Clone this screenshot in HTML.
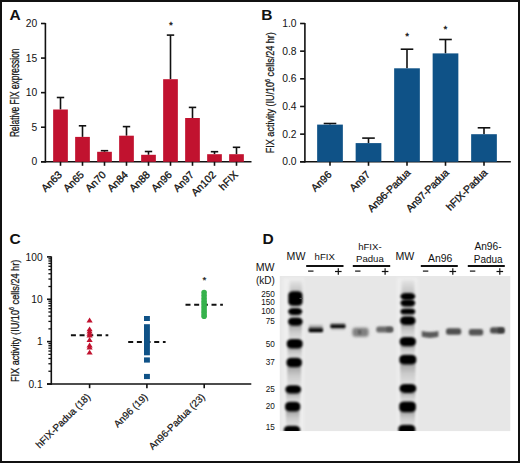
<!DOCTYPE html><html><head><meta charset="utf-8"><style>html,body{margin:0;padding:0;background:#fff;width:520px;height:463px;overflow:hidden;}svg{display:block;font-family:"Liberation Sans", sans-serif;}</style></head><body><svg xmlns="http://www.w3.org/2000/svg" width="520" height="463" viewBox="0 0 520 463" font-family="&quot;Liberation Sans&quot;, sans-serif">
<defs><filter id="b1" x="-50%" y="-50%" width="200%" height="200%"><feGaussianBlur stdDeviation="0.9"/></filter><filter id="b2" x="-50%" y="-50%" width="200%" height="200%"><feGaussianBlur stdDeviation="1.4"/></filter><filter id="b3" x="-50%" y="-50%" width="200%" height="200%"><feGaussianBlur stdDeviation="0.6"/></filter><filter id="b4" x="-50%" y="-50%" width="200%" height="200%"><feGaussianBlur stdDeviation="0.8"/></filter></defs>
<rect width="520" height="463" fill="#fff"/>
<rect x="1" y="1" width="518" height="461" fill="none" stroke="#111" stroke-width="2"/>
<text x="9.4" y="19.8" font-size="15.5" font-weight="bold" fill="#111">A</text>
<text x="261.2" y="20.1" font-size="15.5" font-weight="bold" fill="#111">B</text>
<text x="9.5" y="243.7" font-size="15.5" font-weight="bold" fill="#111">C</text>
<text x="262.6" y="244.2" font-size="15.5" font-weight="bold" fill="#111">D</text>
<line x1="45.40" y1="23.00" x2="45.40" y2="162.60" stroke="#111" stroke-width="1.6"/>
<line x1="41.00" y1="161.80" x2="251.50" y2="161.80" stroke="#111" stroke-width="1.6"/>
<line x1="41.00" y1="23.50" x2="45.40" y2="23.50" stroke="#111" stroke-width="1.6"/>
<text x="37.30" y="27.10" font-size="10.3" text-anchor="end" fill="#111" >20</text>
<line x1="41.00" y1="58.08" x2="45.40" y2="58.08" stroke="#111" stroke-width="1.6"/>
<text x="37.30" y="61.68" font-size="10.3" text-anchor="end" fill="#111" >15</text>
<line x1="41.00" y1="92.65" x2="45.40" y2="92.65" stroke="#111" stroke-width="1.6"/>
<text x="37.30" y="96.25" font-size="10.3" text-anchor="end" fill="#111" >10</text>
<line x1="41.00" y1="127.23" x2="45.40" y2="127.23" stroke="#111" stroke-width="1.6"/>
<text x="37.30" y="130.83" font-size="10.3" text-anchor="end" fill="#111" >5</text>
<line x1="41.00" y1="161.80" x2="45.40" y2="161.80" stroke="#111" stroke-width="1.6"/>
<text x="37.30" y="165.40" font-size="10.3" text-anchor="end" fill="#111" >0</text>
<text transform="translate(18.6,137.1) rotate(-90)" font-size="12.6" textLength="88.6" lengthAdjust="spacingAndGlyphs" fill="#111" stroke="#111" stroke-width="0.25">Relative FIX expression</text>
<line x1="60.50" y1="97.50" x2="60.50" y2="109.50" stroke="#111" stroke-width="1.6"/>
<line x1="56.80" y1="97.50" x2="64.20" y2="97.50" stroke="#111" stroke-width="1.6"/>
<rect x="53.15" y="109.50" width="14.7" height="52.30" fill="#C1122F"/>
<line x1="60.50" y1="161.80" x2="60.50" y2="165.80" stroke="#111" stroke-width="1.6"/>
<text transform="translate(62.70,175.40) rotate(-45)" font-size="10.4" text-anchor="end" fill="#111" stroke="#111" stroke-width="0.3">An63</text>
<line x1="82.50" y1="125.80" x2="82.50" y2="136.90" stroke="#111" stroke-width="1.6"/>
<line x1="78.80" y1="125.80" x2="86.20" y2="125.80" stroke="#111" stroke-width="1.6"/>
<rect x="75.15" y="136.90" width="14.7" height="24.90" fill="#C1122F"/>
<line x1="82.50" y1="161.80" x2="82.50" y2="165.80" stroke="#111" stroke-width="1.6"/>
<text transform="translate(84.70,175.40) rotate(-45)" font-size="10.4" text-anchor="end" fill="#111" stroke="#111" stroke-width="0.3">An65</text>
<line x1="104.50" y1="150.70" x2="104.50" y2="151.80" stroke="#111" stroke-width="1.6"/>
<line x1="100.80" y1="150.70" x2="108.20" y2="150.70" stroke="#111" stroke-width="1.6"/>
<rect x="97.15" y="151.80" width="14.7" height="10.00" fill="#C1122F"/>
<line x1="104.50" y1="161.80" x2="104.50" y2="165.80" stroke="#111" stroke-width="1.6"/>
<text transform="translate(106.70,175.40) rotate(-45)" font-size="10.4" text-anchor="end" fill="#111" stroke="#111" stroke-width="0.3">An70</text>
<line x1="126.50" y1="126.60" x2="126.50" y2="135.70" stroke="#111" stroke-width="1.6"/>
<line x1="122.80" y1="126.60" x2="130.20" y2="126.60" stroke="#111" stroke-width="1.6"/>
<rect x="119.15" y="135.70" width="14.7" height="26.10" fill="#C1122F"/>
<line x1="126.50" y1="161.80" x2="126.50" y2="165.80" stroke="#111" stroke-width="1.6"/>
<text transform="translate(128.70,175.40) rotate(-45)" font-size="10.4" text-anchor="end" fill="#111" stroke="#111" stroke-width="0.3">An84</text>
<line x1="148.50" y1="151.50" x2="148.50" y2="154.80" stroke="#111" stroke-width="1.6"/>
<line x1="144.80" y1="151.50" x2="152.20" y2="151.50" stroke="#111" stroke-width="1.6"/>
<rect x="141.15" y="154.80" width="14.7" height="7.00" fill="#C1122F"/>
<line x1="148.50" y1="161.80" x2="148.50" y2="165.80" stroke="#111" stroke-width="1.6"/>
<text transform="translate(150.70,175.40) rotate(-45)" font-size="10.4" text-anchor="end" fill="#111" stroke="#111" stroke-width="0.3">An88</text>
<line x1="170.50" y1="35.10" x2="170.50" y2="79.20" stroke="#111" stroke-width="1.6"/>
<line x1="166.80" y1="35.10" x2="174.20" y2="35.10" stroke="#111" stroke-width="1.6"/>
<rect x="163.15" y="79.20" width="14.7" height="82.60" fill="#C1122F"/>
<line x1="170.50" y1="161.80" x2="170.50" y2="165.80" stroke="#111" stroke-width="1.6"/>
<text transform="translate(172.70,175.40) rotate(-45)" font-size="10.4" text-anchor="end" fill="#111" stroke="#111" stroke-width="0.3">An96</text>
<line x1="192.50" y1="107.40" x2="192.50" y2="118.00" stroke="#111" stroke-width="1.6"/>
<line x1="188.80" y1="107.40" x2="196.20" y2="107.40" stroke="#111" stroke-width="1.6"/>
<rect x="185.15" y="118.00" width="14.7" height="43.80" fill="#C1122F"/>
<line x1="192.50" y1="161.80" x2="192.50" y2="165.80" stroke="#111" stroke-width="1.6"/>
<text transform="translate(194.70,175.40) rotate(-45)" font-size="10.4" text-anchor="end" fill="#111" stroke="#111" stroke-width="0.3">An97</text>
<line x1="214.50" y1="151.70" x2="214.50" y2="154.20" stroke="#111" stroke-width="1.6"/>
<line x1="210.80" y1="151.70" x2="218.20" y2="151.70" stroke="#111" stroke-width="1.6"/>
<rect x="207.15" y="154.20" width="14.7" height="7.60" fill="#C1122F"/>
<line x1="214.50" y1="161.80" x2="214.50" y2="165.80" stroke="#111" stroke-width="1.6"/>
<text transform="translate(216.70,175.40) rotate(-45)" font-size="10.4" text-anchor="end" fill="#111" stroke="#111" stroke-width="0.3">An102</text>
<line x1="236.50" y1="147.30" x2="236.50" y2="154.20" stroke="#111" stroke-width="1.6"/>
<line x1="232.80" y1="147.30" x2="240.20" y2="147.30" stroke="#111" stroke-width="1.6"/>
<rect x="229.15" y="154.20" width="14.7" height="7.60" fill="#C1122F"/>
<line x1="236.50" y1="161.80" x2="236.50" y2="165.80" stroke="#111" stroke-width="1.6"/>
<text transform="translate(238.70,175.40) rotate(-45)" font-size="10.4" text-anchor="end" fill="#111" stroke="#111" stroke-width="0.3">hFIX</text>
<text x="171.00" y="28.30" font-size="9.8" text-anchor="middle" fill="#111" stroke="#111" stroke-width="0.3">*</text>
<line x1="304.90" y1="23.00" x2="304.90" y2="162.60" stroke="#111" stroke-width="1.6"/>
<line x1="300.10" y1="161.80" x2="510.80" y2="161.80" stroke="#111" stroke-width="1.6"/>
<line x1="300.10" y1="23.50" x2="304.90" y2="23.50" stroke="#111" stroke-width="1.6"/>
<text x="296.60" y="27.10" font-size="10.3" text-anchor="end" fill="#111" >1.0</text>
<line x1="300.10" y1="51.16" x2="304.90" y2="51.16" stroke="#111" stroke-width="1.6"/>
<text x="296.60" y="54.76" font-size="10.3" text-anchor="end" fill="#111" >0.8</text>
<line x1="300.10" y1="78.82" x2="304.90" y2="78.82" stroke="#111" stroke-width="1.6"/>
<text x="296.60" y="82.42" font-size="10.3" text-anchor="end" fill="#111" >0.6</text>
<line x1="300.10" y1="106.48" x2="304.90" y2="106.48" stroke="#111" stroke-width="1.6"/>
<text x="296.60" y="110.08" font-size="10.3" text-anchor="end" fill="#111" >0.4</text>
<line x1="300.10" y1="134.14" x2="304.90" y2="134.14" stroke="#111" stroke-width="1.6"/>
<text x="296.60" y="137.74" font-size="10.3" text-anchor="end" fill="#111" >0.2</text>
<line x1="300.10" y1="161.80" x2="304.90" y2="161.80" stroke="#111" stroke-width="1.6"/>
<text x="296.60" y="165.40" font-size="10.3" text-anchor="end" fill="#111" >0.0</text>
<text transform="translate(274.3,153.2) rotate(-90)" font-size="11.8" stroke="#111" stroke-width="0.25" textLength="121" lengthAdjust="spacingAndGlyphs" fill="#111">FIX activity (IU/10<tspan font-size="7.2" dy="-4.4">6</tspan><tspan dy="4.4"> cells/24 hr)</tspan></text>
<line x1="330.00" y1="123.50" x2="330.00" y2="124.60" stroke="#111" stroke-width="1.6"/>
<line x1="323.70" y1="123.50" x2="336.30" y2="123.50" stroke="#111" stroke-width="1.6"/>
<rect x="317.15" y="124.60" width="25.7" height="37.20" fill="#0F5287"/>
<line x1="330.00" y1="161.80" x2="330.00" y2="165.80" stroke="#111" stroke-width="1.6"/>
<text transform="translate(332.40,175.20) rotate(-45)" font-size="10.4" text-anchor="end" fill="#111" stroke="#111" stroke-width="0.3">An96</text>
<line x1="368.50" y1="138.10" x2="368.50" y2="143.10" stroke="#111" stroke-width="1.6"/>
<line x1="362.20" y1="138.10" x2="374.80" y2="138.10" stroke="#111" stroke-width="1.6"/>
<rect x="355.65" y="143.10" width="25.7" height="18.70" fill="#0F5287"/>
<line x1="368.50" y1="161.80" x2="368.50" y2="165.80" stroke="#111" stroke-width="1.6"/>
<text transform="translate(370.90,175.20) rotate(-45)" font-size="10.4" text-anchor="end" fill="#111" stroke="#111" stroke-width="0.3">An97</text>
<line x1="407.00" y1="49.20" x2="407.00" y2="68.30" stroke="#111" stroke-width="1.6"/>
<line x1="400.70" y1="49.20" x2="413.30" y2="49.20" stroke="#111" stroke-width="1.6"/>
<rect x="394.15" y="68.30" width="25.7" height="93.50" fill="#0F5287"/>
<line x1="407.00" y1="161.80" x2="407.00" y2="165.80" stroke="#111" stroke-width="1.6"/>
<text transform="translate(410.90,173.70) rotate(-45)" font-size="10.4" text-anchor="end" fill="#111" stroke="#111" stroke-width="0.3" letter-spacing="-0.25">An96-Padua</text>
<line x1="445.50" y1="39.50" x2="445.50" y2="53.40" stroke="#111" stroke-width="1.6"/>
<line x1="439.20" y1="39.50" x2="451.80" y2="39.50" stroke="#111" stroke-width="1.6"/>
<rect x="432.65" y="53.40" width="25.7" height="108.40" fill="#0F5287"/>
<line x1="445.50" y1="161.80" x2="445.50" y2="165.80" stroke="#111" stroke-width="1.6"/>
<text transform="translate(449.40,173.70) rotate(-45)" font-size="10.4" text-anchor="end" fill="#111" stroke="#111" stroke-width="0.3" letter-spacing="-0.25">An97-Padua</text>
<line x1="484.00" y1="127.80" x2="484.00" y2="134.20" stroke="#111" stroke-width="1.6"/>
<line x1="477.70" y1="127.80" x2="490.30" y2="127.80" stroke="#111" stroke-width="1.6"/>
<rect x="471.15" y="134.20" width="25.7" height="27.60" fill="#0F5287"/>
<line x1="484.00" y1="161.80" x2="484.00" y2="165.80" stroke="#111" stroke-width="1.6"/>
<text transform="translate(487.90,173.70) rotate(-45)" font-size="10.4" text-anchor="end" fill="#111" stroke="#111" stroke-width="0.3" letter-spacing="-0.25">hFIX-Padua</text>
<text x="407.10" y="38.90" font-size="9.8" text-anchor="middle" fill="#111" stroke="#111" stroke-width="0.3">*</text>
<text x="445.40" y="32.10" font-size="9.8" text-anchor="middle" fill="#111" stroke="#111" stroke-width="0.3">*</text>
<line x1="51.30" y1="256.40" x2="51.30" y2="384.80" stroke="#111" stroke-width="1.6"/>
<line x1="47.00" y1="384.00" x2="251.30" y2="384.00" stroke="#111" stroke-width="1.6"/>
<line x1="47.00" y1="256.89" x2="51.30" y2="256.89" stroke="#111" stroke-width="1.6"/>
<text x="42.60" y="260.59" font-size="10.2" text-anchor="end" fill="#111" >100</text>
<line x1="47.00" y1="299.26" x2="51.30" y2="299.26" stroke="#111" stroke-width="1.6"/>
<text x="42.60" y="302.96" font-size="10.2" text-anchor="end" fill="#111" >10</text>
<line x1="47.00" y1="341.63" x2="51.30" y2="341.63" stroke="#111" stroke-width="1.6"/>
<text x="42.60" y="345.33" font-size="10.2" text-anchor="end" fill="#111" >1</text>
<line x1="47.00" y1="384.00" x2="51.30" y2="384.00" stroke="#111" stroke-width="1.6"/>
<text x="42.60" y="387.70" font-size="10.2" text-anchor="end" fill="#111" >0.1</text>
<line x1="48.40" y1="371.25" x2="51.30" y2="371.25" stroke="#111" stroke-width="1.3"/>
<line x1="48.40" y1="363.78" x2="51.30" y2="363.78" stroke="#111" stroke-width="1.3"/>
<line x1="48.40" y1="358.49" x2="51.30" y2="358.49" stroke="#111" stroke-width="1.3"/>
<line x1="48.40" y1="354.38" x2="51.30" y2="354.38" stroke="#111" stroke-width="1.3"/>
<line x1="48.40" y1="351.03" x2="51.30" y2="351.03" stroke="#111" stroke-width="1.3"/>
<line x1="48.40" y1="348.19" x2="51.30" y2="348.19" stroke="#111" stroke-width="1.3"/>
<line x1="48.40" y1="345.74" x2="51.30" y2="345.74" stroke="#111" stroke-width="1.3"/>
<line x1="48.40" y1="343.57" x2="51.30" y2="343.57" stroke="#111" stroke-width="1.3"/>
<line x1="48.40" y1="328.88" x2="51.30" y2="328.88" stroke="#111" stroke-width="1.3"/>
<line x1="48.40" y1="321.41" x2="51.30" y2="321.41" stroke="#111" stroke-width="1.3"/>
<line x1="48.40" y1="316.12" x2="51.30" y2="316.12" stroke="#111" stroke-width="1.3"/>
<line x1="48.40" y1="312.01" x2="51.30" y2="312.01" stroke="#111" stroke-width="1.3"/>
<line x1="48.40" y1="308.66" x2="51.30" y2="308.66" stroke="#111" stroke-width="1.3"/>
<line x1="48.40" y1="305.82" x2="51.30" y2="305.82" stroke="#111" stroke-width="1.3"/>
<line x1="48.40" y1="303.37" x2="51.30" y2="303.37" stroke="#111" stroke-width="1.3"/>
<line x1="48.40" y1="301.20" x2="51.30" y2="301.20" stroke="#111" stroke-width="1.3"/>
<line x1="48.40" y1="286.51" x2="51.30" y2="286.51" stroke="#111" stroke-width="1.3"/>
<line x1="48.40" y1="279.04" x2="51.30" y2="279.04" stroke="#111" stroke-width="1.3"/>
<line x1="48.40" y1="273.75" x2="51.30" y2="273.75" stroke="#111" stroke-width="1.3"/>
<line x1="48.40" y1="269.64" x2="51.30" y2="269.64" stroke="#111" stroke-width="1.3"/>
<line x1="48.40" y1="266.29" x2="51.30" y2="266.29" stroke="#111" stroke-width="1.3"/>
<line x1="48.40" y1="263.45" x2="51.30" y2="263.45" stroke="#111" stroke-width="1.3"/>
<line x1="48.40" y1="261.00" x2="51.30" y2="261.00" stroke="#111" stroke-width="1.3"/>
<line x1="48.40" y1="258.83" x2="51.30" y2="258.83" stroke="#111" stroke-width="1.3"/>
<text transform="translate(18.6,382.1) rotate(-90)" font-size="11.8" stroke="#111" stroke-width="0.25" textLength="122.4" lengthAdjust="spacingAndGlyphs" fill="#111">FIX activity (IU/10<tspan font-size="7.2" dy="-4.4">6</tspan><tspan dy="4.4"> cells/24 hr)</tspan></text>
<line x1="89.60" y1="384.00" x2="89.60" y2="388.20" stroke="#111" stroke-width="1.6"/>
<text transform="translate(91.00,397.60) rotate(-45)" font-size="9.8" text-anchor="end" fill="#111" stroke="#111" stroke-width="0.2">hFIX-Padua (18)</text>
<line x1="146.90" y1="384.00" x2="146.90" y2="388.20" stroke="#111" stroke-width="1.6"/>
<text transform="translate(148.30,397.60) rotate(-45)" font-size="9.8" text-anchor="end" fill="#111" stroke="#111" stroke-width="0.2">An96 (19)</text>
<line x1="204.20" y1="384.00" x2="204.20" y2="388.20" stroke="#111" stroke-width="1.6"/>
<text transform="translate(205.60,397.60) rotate(-45)" font-size="9.8" text-anchor="end" fill="#111" stroke="#111" stroke-width="0.2">An96-Padua (23)</text>
<line x1="70.90" y1="335.2" x2="108.30" y2="335.2" stroke="#111" stroke-width="2" stroke-dasharray="5 3.67"/>
<line x1="128.20" y1="342.1" x2="165.60" y2="342.1" stroke="#111" stroke-width="2" stroke-dasharray="5 3.67"/>
<line x1="185.50" y1="304.8" x2="222.90" y2="304.8" stroke="#111" stroke-width="2" stroke-dasharray="5 3.67"/>
<polygon points="89.6,317.6 92.7,322.5 86.5,322.5" fill="#C1122F"/>
<polygon points="89.6,326.4 92.7,331.29999999999995 86.5,331.29999999999995" fill="#C1122F"/>
<polygon points="89.6,328.6 92.7,333.5 86.5,333.5" fill="#C1122F"/>
<polygon points="89.6,330.8 92.7,335.7 86.5,335.7" fill="#C1122F"/>
<polygon points="89.6,332.5 92.7,337.4 86.5,337.4" fill="#C1122F"/>
<polygon points="89.6,337.1 92.7,342.0 86.5,342.0" fill="#C1122F"/>
<polygon points="89.6,342.6 92.7,347.5 86.5,347.5" fill="#C1122F"/>
<polygon points="89.6,344.6 92.7,349.5 86.5,349.5" fill="#C1122F"/>
<polygon points="89.6,349.7 92.7,354.59999999999997 86.5,354.59999999999997" fill="#C1122F"/>
<rect x="144" y="316" width="5.9" height="5.00" fill="#0F5287"/>
<rect x="144" y="324.2" width="5.9" height="31.10" fill="#0F5287"/>
<rect x="144" y="357.4" width="5.9" height="5.20" fill="#0F5287"/>
<rect x="144" y="373.9" width="5.9" height="5.20" fill="#0F5287"/>
<circle cx="204.1" cy="292.6" r="2.8" fill="#36B24C"/>
<circle cx="204.1" cy="295.6" r="2.8" fill="#36B24C"/>
<circle cx="204.1" cy="298.6" r="2.8" fill="#36B24C"/>
<circle cx="204.1" cy="301.2" r="2.8" fill="#36B24C"/>
<circle cx="204.1" cy="303.8" r="2.8" fill="#36B24C"/>
<circle cx="204.1" cy="306.4" r="2.8" fill="#36B24C"/>
<circle cx="204.1" cy="309" r="2.8" fill="#36B24C"/>
<circle cx="204.1" cy="311.6" r="2.8" fill="#36B24C"/>
<circle cx="204.1" cy="313.9" r="2.8" fill="#36B24C"/>
<circle cx="204.1" cy="316.3" r="2.8" fill="#36B24C"/>
<text x="204.3" y="283.2" font-size="9.8" text-anchor="middle" fill="#111" stroke="#111" stroke-width="0.2">*</text>
<rect x="279.8" y="276" width="230.50" height="155.10" fill="#E7E7E7"/>
<clipPath id="gelclip"><rect x="279.8" y="276" width="230.50" height="155.10"/></clipPath>
<linearGradient id="smr" x1="0" y1="0" x2="0" y2="1"><stop offset="0" stop-color="#A0A0A0"/><stop offset="0.5" stop-color="#CBCBCB"/><stop offset="1" stop-color="#DFDFDF"/></linearGradient>
<linearGradient id="smt" x1="0" y1="0" x2="0" y2="1"><stop offset="0" stop-color="#E4E4E4"/><stop offset="1" stop-color="#BDBDBD"/></linearGradient>
<linearGradient id="bsm" x1="0" y1="0" x2="0" y2="1"><stop offset="0" stop-color="#000" stop-opacity="0"/><stop offset="1" stop-color="#000" stop-opacity="0.6"/></linearGradient>
<g clip-path="url(#gelclip)">
<rect x="282.70" y="278" width="21.10" height="155.10" fill="#EFEFEF" filter="url(#b2)"/>
<rect x="289.60" y="280.5" width="12.60" height="13.00" fill="url(#smt)" filter="url(#b2)"/>
<rect x="289.10" y="304.50" width="12.60" height="3.80" fill="url(#smr)" filter="url(#b1)"/>
<rect x="288.90" y="313.80" width="12.60" height="3.90" fill="url(#smr)" filter="url(#b1)"/>
<rect x="288.90" y="324.40" width="12.90" height="14.90" fill="url(#smr)" filter="url(#b1)"/>
<rect x="287.60" y="347.20" width="14.20" height="10.90" fill="url(#smr)" filter="url(#b1)"/>
<rect x="287.30" y="366.00" width="13.80" height="19.60" fill="url(#smr)" filter="url(#b1)"/>
<rect x="286.20" y="392.20" width="14.10" height="9.90" fill="url(#smr)" filter="url(#b1)"/>
<rect x="285.90" y="410.30" width="13.60" height="15.70" fill="url(#smr)" filter="url(#b1)"/>
<rect x="288.30" y="291.20" width="14.20" height="14.60" rx="5" ry="3.6" fill="#000" filter="url(#b4)"/>
<rect x="288.10" y="308.00" width="14.20" height="7.10" rx="5" ry="3.6" fill="#000" filter="url(#b4)"/>
<rect x="288.10" y="317.40" width="14.50" height="8.30" rx="5" ry="3.6" fill="#000" filter="url(#b4)"/>
<rect x="286.80" y="339.00" width="15.80" height="9.50" rx="5" ry="3.6" fill="#000" filter="url(#b4)"/>
<rect x="286.50" y="357.80" width="15.40" height="9.50" rx="5" ry="3.6" fill="#000" filter="url(#b4)"/>
<rect x="285.40" y="385.30" width="15.70" height="8.20" rx="5" ry="3.6" fill="#000" filter="url(#b4)"/>
<rect x="285.10" y="401.80" width="15.20" height="9.80" rx="5" ry="3.6" fill="#000" filter="url(#b4)"/>
<rect x="283.90" y="425.70" width="16.20" height="8.60" rx="5" ry="3.6" fill="#000" filter="url(#b4)"/>
<rect x="299.5" y="297.9" width="3" height="1" fill="#555" filter="url(#b3)"/>
<rect x="397.20" y="278" width="20.30" height="155.10" fill="#EFEFEF" filter="url(#b2)"/>
<rect x="401.50" y="280" width="13.00" height="14.80" fill="url(#smt)" filter="url(#b2)"/>
<rect x="401.20" y="305.20" width="13.30" height="3.60" fill="url(#smr)" filter="url(#b1)"/>
<rect x="401.20" y="313.00" width="13.30" height="3.60" fill="url(#smr)" filter="url(#b1)"/>
<rect x="401.00" y="323.80" width="13.70" height="13.40" fill="url(#smr)" filter="url(#b1)"/>
<rect x="400.50" y="344.90" width="14.60" height="10.20" fill="url(#smr)" filter="url(#b1)"/>
<rect x="400.20" y="363.20" width="15.30" height="21.00" fill="url(#smr)" filter="url(#b1)"/>
<rect x="400.40" y="391.60" width="15.00" height="10.20" fill="url(#smr)" filter="url(#b1)"/>
<rect x="400.00" y="410.90" width="15.10" height="14.10" fill="url(#smr)" filter="url(#b1)"/>
<rect x="400.40" y="293.00" width="14.90" height="6.90" rx="5" ry="3.6" fill="#000" filter="url(#b4)"/>
<rect x="400.40" y="299.60" width="14.90" height="6.90" rx="5" ry="3.6" fill="#000" filter="url(#b4)"/>
<rect x="400.40" y="308.50" width="14.90" height="5.80" rx="5" ry="3.6" fill="#000" filter="url(#b4)"/>
<rect x="400.20" y="316.30" width="15.30" height="8.80" rx="5" ry="3.6" fill="#000" filter="url(#b4)"/>
<rect x="399.70" y="336.90" width="16.20" height="9.30" rx="5" ry="3.6" fill="#000" filter="url(#b4)"/>
<rect x="399.40" y="354.80" width="16.90" height="9.70" rx="5" ry="3.6" fill="#000" filter="url(#b4)"/>
<rect x="399.60" y="383.90" width="16.60" height="9.00" rx="5" ry="3.6" fill="#000" filter="url(#b4)"/>
<rect x="399.20" y="401.50" width="16.70" height="10.70" rx="5" ry="3.6" fill="#000" filter="url(#b4)"/>
<rect x="398.40" y="424.70" width="16.90" height="9.60" rx="5" ry="3.6" fill="#000" filter="url(#b4)"/>
<rect x="308.90" y="323.80" width="13.80" height="5.80" fill="url(#bsm)" filter="url(#b1)"/>
<rect x="308.60" y="328.60" width="14.40" height="3.60" rx="1.2" ry="1.2" fill="#000" filter="url(#b1)"/>
<rect x="330.60" y="322.00" width="14.60" height="3.80" fill="url(#bsm)" filter="url(#b1)"/>
<rect x="330.30" y="324.80" width="15.20" height="3.20" rx="1.2" ry="1.2" fill="#000" filter="url(#b1)"/>
<rect x="331" y="327.5" width="14" height="2.6" fill="#000" opacity="0.18" filter="url(#b1)"/>
<rect x="352.4" y="327.8" width="16.2" height="9" rx="3" fill="#808080" filter="url(#b2)"/>
<rect x="358.4" y="330.2" width="2.6" height="4" fill="#555" filter="url(#b1)"/>
<rect x="376.2" y="326.4" width="17" height="6.2" rx="2.5" fill="#6A6A6A" filter="url(#b1)"/>
<rect x="386.5" y="327.4" width="6" height="4.2" fill="#555" filter="url(#b1)"/>
<path d="M421.8,331 Q430,333.2 438.4,331 L438.4,336.8 Q430,339 421.8,336.8 Z" fill="#5A5A5A" filter="url(#b1)"/>
<rect x="446" y="328.3" width="15.2" height="6.4" rx="2.5" fill="#505050" filter="url(#b1)"/>
<rect x="468.8" y="329.1" width="14.4" height="6.4" rx="2.5" fill="#555" filter="url(#b1)"/>
<rect x="490" y="327.3" width="14.6" height="6.2" rx="2.5" fill="#505050" filter="url(#b1)"/>
<rect x="498" y="328" width="6" height="4.8" fill="#3A3A3A" filter="url(#b1)"/>
</g>
<text x="274.80" y="296.90" font-size="8.2" text-anchor="end" fill="#111" >250</text>
<text x="274.80" y="304.80" font-size="8.2" text-anchor="end" fill="#111" >150</text>
<text x="274.80" y="314.20" font-size="8.2" text-anchor="end" fill="#111" >100</text>
<text x="274.80" y="323.70" font-size="8.2" text-anchor="end" fill="#111" >75</text>
<text x="274.80" y="346.70" font-size="8.2" text-anchor="end" fill="#111" >50</text>
<text x="274.80" y="364.80" font-size="8.2" text-anchor="end" fill="#111" >37</text>
<text x="274.80" y="391.90" font-size="8.2" text-anchor="end" fill="#111" >25</text>
<text x="274.80" y="408.60" font-size="8.2" text-anchor="end" fill="#111" >20</text>
<text x="274.80" y="429.80" font-size="8.2" text-anchor="end" fill="#111" >15</text>
<text x="255.80" y="270.80" font-size="10.6" text-anchor="start" fill="#111" >MW</text>
<text x="256.00" y="283.70" font-size="10" text-anchor="start" fill="#111" >(kD)</text>
<text x="286.60" y="259.80" font-size="10.6" text-anchor="start" fill="#111" >MW</text>
<text x="314.60" y="259.80" font-size="9.6" text-anchor="start" fill="#111" >hFIX</text>
<text x="395.40" y="259.80" font-size="10.6" text-anchor="start" fill="#111" >MW</text>
<text x="369.90" y="249.70" font-size="9.6" text-anchor="middle" fill="#111" >hFIX-</text>
<text x="369.90" y="261.80" font-size="9.6" text-anchor="middle" fill="#111" >Padua</text>
<text x="440.20" y="262.30" font-size="10.4" text-anchor="middle" fill="#111" >An96</text>
<text x="488.00" y="250.30" font-size="10.2" text-anchor="middle" fill="#111" >An96-</text>
<text x="488.20" y="262.60" font-size="10" text-anchor="middle" fill="#111" >Padua</text>
<line x1="306.20" y1="266.00" x2="343.50" y2="266.00" stroke="#111" stroke-width="1.9"/>
<line x1="308.10" y1="271.10" x2="313.50" y2="271.10" stroke="#111" stroke-width="1.2"/>
<line x1="335.00" y1="271.50" x2="341.60" y2="271.50" stroke="#111" stroke-width="1.2"/>
<line x1="338.30" y1="268.20" x2="338.30" y2="274.80" stroke="#111" stroke-width="1.2"/>
<line x1="352.80" y1="266.00" x2="390.20" y2="266.00" stroke="#111" stroke-width="1.9"/>
<line x1="355.10" y1="271.10" x2="360.50" y2="271.10" stroke="#111" stroke-width="1.2"/>
<line x1="381.80" y1="271.50" x2="388.40" y2="271.50" stroke="#111" stroke-width="1.2"/>
<line x1="385.10" y1="268.20" x2="385.10" y2="274.80" stroke="#111" stroke-width="1.2"/>
<line x1="420.80" y1="266.00" x2="457.80" y2="266.00" stroke="#111" stroke-width="1.9"/>
<line x1="422.90" y1="271.10" x2="428.30" y2="271.10" stroke="#111" stroke-width="1.2"/>
<line x1="449.50" y1="271.50" x2="456.10" y2="271.50" stroke="#111" stroke-width="1.2"/>
<line x1="452.80" y1="268.20" x2="452.80" y2="274.80" stroke="#111" stroke-width="1.2"/>
<line x1="467.80" y1="266.00" x2="504.80" y2="266.00" stroke="#111" stroke-width="1.9"/>
<line x1="469.90" y1="271.10" x2="475.30" y2="271.10" stroke="#111" stroke-width="1.2"/>
<line x1="496.50" y1="271.50" x2="503.10" y2="271.50" stroke="#111" stroke-width="1.2"/>
<line x1="499.80" y1="268.20" x2="499.80" y2="274.80" stroke="#111" stroke-width="1.2"/>
</svg></body></html>
